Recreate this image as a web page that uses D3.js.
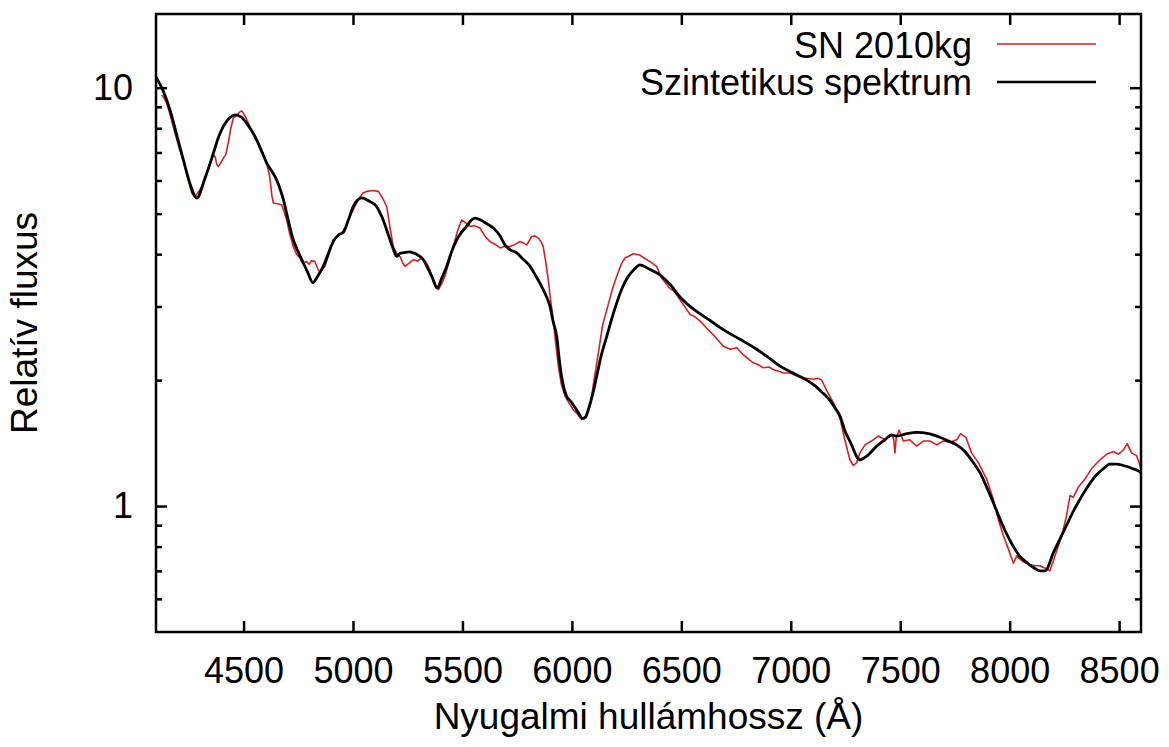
<!DOCTYPE html>
<html>
<head>
<meta charset="utf-8">
<script src="https://cdn.jsdelivr.net/npm/d3@7"></script>
<style>
  body { margin: 0; background: #fff; overflow: hidden; }
  svg { display: block; }
  svg text { font-family: "Liberation Sans", Arial, Helvetica, sans-serif; fill: #000; }
</style>
</head>
<body>
<div id="chart"></div>
<script>

// observed spectrum (SN 2010kg)
var obsWave = [4125,4133,4149,4165,4187,4205,4225,4245,4263,4275,4286,4300,4316,4335,4354,4362,4370,4378,4385,4395,
  4407,4418,4430,4442,4453,4468,4484,4492,4499,4514,4529,4550,4575,4590,4606,4620,4630,4636,4655,4674,
  4685,4697,4712,4727,4742,4758,4770,4788,4800,4810,4826,4838,4849,4860,4872,4890,4910,4930,4948,4965,
  4986,5005,5024,5045,5063,5090,5116,5135,5154,5170,5184,5200,5215,5228,5238,5255,5276,5295,5314,5330,
  5344,5356,5367,5380,5390,5405,5420,5440,5458,5478,5497,5515,5535,5555,5580,5605,5626,5650,5672,5695,
  5717,5740,5763,5780,5794,5805,5816,5830,5847,5860,5869,5880,5892,5903,5915,5926,5938,5952,5969,5988,
  6006,6025,6045,6062,6083,6100,6121,6140,6166,6185,6205,6225,6243,6262,6281,6311,6335,6357,6387,6410,
  6448,6465,6475,6494,6540,6560,6578,6595,6616,6654,6692,6722,6753,6783,6810,6829,6850,6875,6900,6920,
  6945,6966,6997,7015,7034,7073,7103,7125,7141,7164,7194,7225,7247,7270,7286,7301,7316,7339,7369,7400,
  7430,7461,7470,7476,7482,7495,7514,7544,7575,7606,7636,7667,7697,7728,7758,7776,7800,7826,7857,7895,
  7925,7948,7971,7994,8017,8032,8055,8085,8116,8139,8162,8184,8207,8238,8260,8276,8291,8314,8344,8375,
  8413,8443,8474,8497,8519,8537,8557,8580,8600];
var obsFlux = [9.6,9.52,9.18,8.6,7.78,7.2,6.72,6.1,5.6,5.5,5.55,5.7,5.91,6.3,6.72,6.9,6.84,6.55,6.48,6.6,
  6.78,6.9,7.37,8.0,8.45,8.6,8.76,8.8,8.69,8.4,8.07,7.6,7.23,6.95,6.6,6.1,5.5,5.3,5.28,5.25,
  5.05,4.83,4.45,4.17,4.0,3.92,3.8,3.84,3.78,3.86,3.84,3.7,3.61,3.68,3.74,4.0,4.33,4.42,4.49,4.65,
  4.92,5.15,5.4,5.6,5.65,5.68,5.65,5.45,5.2,4.6,4.17,4.02,3.95,3.8,3.74,3.8,3.88,3.85,3.92,3.85,
  3.74,3.6,3.48,3.35,3.29,3.4,3.54,3.85,4.17,4.55,4.83,4.75,4.66,4.68,4.62,4.4,4.29,4.22,4.14,4.18,
  4.17,4.22,4.29,4.25,4.21,4.3,4.41,4.42,4.37,4.28,4.17,3.85,3.48,3.1,2.79,2.45,2.16,1.95,1.83,1.76,
  1.7,1.66,1.61,1.64,1.73,1.98,2.32,2.7,3.03,3.3,3.54,3.78,3.92,3.96,4.01,3.98,3.9,3.84,3.74,3.51,
  3.31,3.27,3.22,3.11,2.87,2.84,2.79,2.74,2.66,2.54,2.41,2.37,2.39,2.3,2.24,2.2,2.18,2.14,2.15,2.12,
  2.1,2.08,2.08,2.06,2.04,2.02,2.01,2.02,2.0,1.89,1.77,1.62,1.44,1.29,1.25,1.27,1.34,1.4,1.43,1.47,
  1.44,1.48,1.45,1.34,1.46,1.52,1.43,1.44,1.39,1.43,1.43,1.4,1.43,1.42,1.44,1.49,1.46,1.34,1.27,1.16,
  1.04,0.93,0.85,0.79,0.73,0.76,0.74,0.726,0.72,0.72,0.71,0.7,0.76,0.85,0.95,1.06,1.05,1.11,1.16,1.23,
  1.29,1.33,1.35,1.33,1.36,1.41,1.34,1.32,1.23];

// synthetic spectrum
var synWave = [4100,4103,4130,4164,4195,4225,4255,4286,4325,4362,4385,4407,4435,4461,4490,4514,4540,4560,4585,4606,
  4630,4651,4668,4682,4705,4727,4750,4773,4795,4816,4840,4864,4890,4910,4935,4956,4980,5001,5020,5040,
  5075,5108,5125,5138,5155,5169,5185,5200,5215,5230,5255,5276,5300,5321,5342,5360,5385,5405,5428,5450,
  5474,5497,5519,5540,5557,5578,5595,5620,5641,5672,5694,5717,5748,5775,5809,5835,5854,5880,5900,5915,
  5931,5942,5953,5965,5976,5995,6014,6030,6049,6062,6075,6095,6113,6135,6159,6180,6205,6230,6258,6285,
  6311,6355,6402,6450,6494,6530,6570,6630,6692,6770,6844,6900,6951,7010,7073,7110,7148,7175,7201,7225,
  7250,7270,7316,7350,7392,7430,7461,7483,7530,7575,7630,7681,7720,7758,7795,7834,7865,7895,7925,7956,
  7985,8017,8045,8078,8110,8139,8162,8200,8230,8260,8290,8322,8360,8398,8430,8458,8490,8519,8560,8592,8600];
var synFlux = [10.6,10.53,9.9,8.85,7.7,6.72,5.9,5.45,6.1,6.97,7.6,8.07,8.45,8.61,8.5,8.22,7.85,7.5,7.0,6.6,
  6.3,6.02,5.7,5.4,4.8,4.33,4.05,3.81,3.6,3.42,3.55,3.74,4.05,4.29,4.45,4.51,4.85,5.2,5.38,5.45,
  5.35,5.2,5.0,4.83,4.55,4.33,4.1,3.95,4.02,4.03,4.05,4.03,3.97,3.88,3.7,3.54,3.32,3.5,3.74,4.05,
  4.33,4.52,4.66,4.82,4.88,4.84,4.79,4.7,4.62,4.42,4.21,4.1,4.03,3.9,3.74,3.55,3.41,3.2,3.0,2.75,
  2.54,2.25,2.04,1.9,1.83,1.78,1.72,1.67,1.62,1.63,1.7,1.85,2.04,2.3,2.54,2.78,3.06,3.32,3.54,3.68,
  3.77,3.68,3.57,3.38,3.16,3.03,2.92,2.78,2.64,2.5,2.37,2.26,2.16,2.08,2.0,1.94,1.86,1.8,1.72,1.64,
  1.5,1.43,1.29,1.32,1.39,1.44,1.48,1.47,1.49,1.5,1.49,1.46,1.43,1.4,1.35,1.27,1.2,1.11,1.02,0.93,
  0.86,0.8,0.76,0.733,0.712,0.7,0.7,0.774,0.835,0.9,0.97,1.04,1.12,1.19,1.23,1.26,1.26,1.25,1.23,1.21,1.2];

var xTicks = [4500,5000,5500,6000,6500,7000,7500,8000,8500];
var yTicks = [1,10];
var yMinorTicks = [0.6,0.7,0.8,0.9,2,3,4,5,6,7,8,9];

var seriesNames = ["SN 2010kg", "Szintetikus spektrum"];
var seriesColors = ["#d62020", "#000000"];

var xAxisLabel = "Nyugalmi hullámhossz (Å)";
var yAxisLabel = "Relatív fluxus";

var width = 1169,
  height = 747,
  margin = {top: 14, right: 28, bottom: 115, left: 156},
  innerWidth = width - margin.left - margin.right,
  innerHeight = height - margin.top - margin.bottom;

var obs = obsWave.map(function(w, i) { return [w, obsFlux[i]]; });
var syn = synWave.map(function(w, i) { return [w, synFlux[i]]; });

var xScale = d3.scaleLinear().domain([4100, 8600]).range([0, innerWidth]);
var yScale = d3.scaleLog().domain([0.5, 15]).range([innerHeight, 0]);

var svg = d3.select("#chart").append("svg")
  .attr("width", width)
  .attr("height", height);

var g = svg.append("g")
  .attr("transform", "translate(" + margin.left + "," + margin.top + ")");

g.append("clipPath").attr("id", "clip")
  .append("rect").attr("width", innerWidth).attr("height", innerHeight);

var fontSize = "36px";
var labelSize = "37px";

// bottom axis with labels
g.append("g")
  .attr("class", "x axis")
  .attr("transform", "translate(0," + innerHeight + ")")
  .call(d3.axisBottom(xScale).tickValues(xTicks).tickSize(-11).tickPadding(25).tickFormat(d3.format("d")));

// top mirror ticks
g.append("g")
  .attr("class", "x2 axis")
  .call(d3.axisTop(xScale).tickValues(xTicks).tickSize(-11).tickFormat(""));

// left axis
g.append("g")
  .attr("class", "y axis")
  .call(d3.axisLeft(yScale).tickValues(yTicks).tickSize(-11).tickPadding(23).tickFormat(d3.format("d")));

g.append("g")
  .attr("class", "y axis minor")
  .call(d3.axisLeft(yScale).tickValues(yMinorTicks).tickSize(-6).tickFormat(""));

// right mirror
g.append("g")
  .attr("class", "y2 axis")
  .attr("transform", "translate(" + innerWidth + ",0)")
  .call(d3.axisRight(yScale).tickValues(yTicks).tickSize(-11).tickFormat(""));

g.append("g")
  .attr("class", "y2 axis minor")
  .attr("transform", "translate(" + innerWidth + ",0)")
  .call(d3.axisRight(yScale).tickValues(yMinorTicks).tickSize(-6).tickFormat(""));

g.selectAll(".axis .domain").remove();
g.selectAll(".axis line").attr("stroke", "#000").attr("stroke-width", 2.5);
g.selectAll(".axis text")
  .style("font-size", fontSize)
  .attr("fill", "#000");

var line = d3.line()
  .x(function(d) { return xScale(d[0]); })
  .y(function(d) { return yScale(d[1]); });

g.append("path")
  .datum(obs)
  .attr("clip-path", "url(#clip)")
  .attr("fill", "none")
  .attr("stroke", seriesColors[0])
  .attr("stroke-width", 1.6)
  .attr("stroke-linejoin", "round")
  .attr("d", line);

g.append("path")
  .datum(syn)
  .attr("clip-path", "url(#clip)")
  .attr("fill", "none")
  .attr("stroke", seriesColors[1])
  .attr("stroke-width", 2.8)
  .attr("stroke-linejoin", "round")
  .attr("d", line.curve(d3.curveMonotoneX));

// frame
g.append("rect")
  .attr("width", innerWidth)
  .attr("height", innerHeight)
  .attr("fill", "none")
  .attr("stroke", "#000")
  .attr("stroke-width", 2.5);

// legend
var legend = g.append("g").attr("class", "legend");
var legendRows = [{y: 31, ly: 30}, {y: 68, ly: 68}];
seriesNames.forEach(function(name, i) {
  legend.append("text")
    .attr("x", 972 - margin.left)
    .attr("y", legendRows[i].y)
    .attr("dy", "0.35em")
    .attr("text-anchor", "end")
    .style("font-size", fontSize)
    .text(name);
  legend.append("line")
    .attr("x1", 997 - margin.left)
    .attr("x2", 1096 - margin.left)
    .attr("y1", legendRows[i].ly)
    .attr("y2", legendRows[i].ly)
    .attr("stroke", seriesColors[i])
    .attr("stroke-width", i == 0 ? 1.6 : 2.4);
});

// axis labels
svg.append("text")
  .attr("x", margin.left + innerWidth / 2)
  .attr("y", 729)
  .attr("text-anchor", "middle")
  .style("font-size", labelSize)
  .text(xAxisLabel);

svg.append("text")
  .attr("transform", "translate(37," + (margin.top + innerHeight / 2) + ") rotate(-90)")
  .attr("text-anchor", "middle")
  .style("font-size", labelSize)
  .text(yAxisLabel);

</script>
</body>
</html>
